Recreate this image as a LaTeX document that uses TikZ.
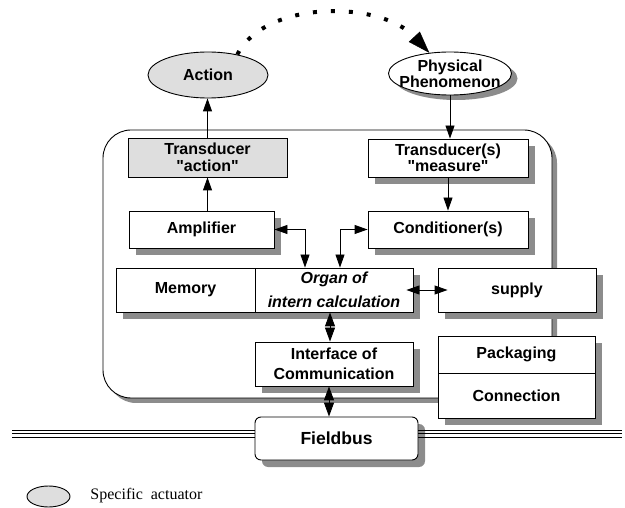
\documentclass[tikz,border=0pt]{standalone}
\usepackage{fontspec}
\setmainfont{Liberation Serif}
\setsansfont{Liberation Sans}[Ligatures=TeXOff]
\usetikzlibrary{positioning,shapes.geometric,shadows,arrows.meta}

\begin{document}
\begin{tikzpicture}[x=1pt,y=1pt]
    \tikzstyle{every node}=[draw,fill=white,rectangle,inner sep=0,line width=0.9pt,align=center,font=\sffamily\bfseries\fontsize{16}{16.5}\selectfont]
    \tikzstyle{note}=[draw=none,fill=none]
    \tikzstyle{shad}=[drop shadow={shadow xshift=7pt,shadow yshift=-7pt,fill=black!45,opacity=1}]
    \tikzstyle{grey}=[fill=black!13]
    \tikzstyle{ell}=[ellipse]
    \tikzstyle{arr}=[line width=0.9pt,-{Triangle[length=13pt,width=9pt]}]
    \tikzstyle{dbl}=[line width=0.9pt,{Triangle[length=13pt,width=9pt]}-{Triangle[length=13pt,width=9pt]}]
    \tikzstyle{diam}=[line width=0.9pt,{Triangle[length=14pt,width=10pt]}-{Triangle[length=14pt,width=10pt]}]
    \tikzstyle{hop}=[line width=4pt,dash pattern=on 4pt off 14pt,-{Triangle[length=22pt,width=15pt,line width=0.5pt]}]
    \tikzstyle{bus}=[line width=0.8pt]

    \useasboundingbox (0,0) rectangle (625,-508);

    \node[rounded corners=28pt,minimum width=449,minimum height=268,drop shadow={shadow xshift=5pt,shadow yshift=-5pt,fill=black!45,opacity=1}] (unit) at (327.5,-264) {};

    \node[ell,grey,minimum width=120,minimum height=46] (act) at (208,-75) {Action};
    \node[ell,inner sep=-8pt,minimum width=123,minimum height=43,drop shadow={shadow xshift=6pt,shadow yshift=-5pt,fill=black!45,opacity=1},font=\sffamily\bfseries\fontsize{16}{14.5}\selectfont] (phen) at (450,-73.5) {Physical\\Phenomenon};

    \node[grey,minimum width=159,minimum height=39] (tact) at (207.5,-157.5) {Transducer\\"action"};
    \node[shad,minimum width=160,minimum height=38] (meas) at (448,-158) {Transducer(s)\\"measure"};
    \node[shad,minimum width=145,minimum height=37] (amp) at (201.5,-229.5) {Amplifier};
    \node[shad,minimum width=160,minimum height=37] (cond) at (448,-229.5) {Conditioner(s)};
    \node[shad,minimum width=139,minimum height=44] (mem) at (185.5,-290) {Memory};
    \node[shad,minimum width=158,minimum height=44,font=\sffamily\bfseries\itshape\fontsize{16}{16.5}\selectfont] (org) at (334,-290) {Organ of\\[7pt]intern calculation};
    \node[shad,minimum width=158,minimum height=44] (sup) at (517,-290) {supply};
    \node[shad,minimum width=158,minimum height=44] (ifc) at (334,-364) {Interface of\\[3.5pt]Communication};
    \node[shad,minimum width=157,minimum height=37] (pkg) at (516.5,-354.5) {Packaging};
    \node[shad,minimum width=157,minimum height=45] (conn) at (516.5,-395.5) {Connection};
    \node[shad,rounded corners=6pt,minimum width=163,minimum height=43,font=\sffamily\bfseries\fontsize{17.5}{18}\selectfont] (fb) at (336.5,-438.5) {Fieldbus};

    \draw[hop] (act.35) .. controls (265,0) and (380,0) .. (phen.135);
    \draw[arr] (tact.north) -- (tact.north |- act.south);
    \draw[arr] (phen.south) -- (phen.south |- meas.north);
    \draw[arr] (meas.south) -- (cond.north);
    \draw[arr] (tact.south |- amp.north) -- (tact.south);
    \draw[dbl] (amp.east) -| ([xshift=-29pt]org.north);
    \draw[dbl] ([xshift=6pt]org.north) |- (cond.west);
    \draw[dbl] ([xshift=-7pt]org.east) -- ([xshift=10pt]sup.west);
    \draw[diam] ([xshift=-4pt]org.south) -- ([xshift=-4pt]org.south |- ifc.north);
    \draw[diam] ([xshift=-5pt]ifc.south) -- ([xshift=-5pt]ifc.south |- fb.north);

    \coordinate (busL) at (12,-433.5);
    \coordinate (busR) at (622,-433.5);
    \foreach \dy in {-3.5,0,3.5} {
        \draw[bus] ([yshift=\dy pt]busL) -- ([yshift=\dy pt]busL -| fb.west);
        \draw[bus] ([yshift=\dy pt]busR -| fb.east) -- ([yshift=\dy pt]busR);
    }

    \node[ell,grey,minimum width=43,minimum height=21] (key) at (48.5,-496.5) {};
    \node[note,anchor=base west,font=\rmfamily\fontsize{16}{18}\selectfont] (keytxt) at (90,-499) {Specific\ \ actuator};
\end{tikzpicture}
\end{document}
